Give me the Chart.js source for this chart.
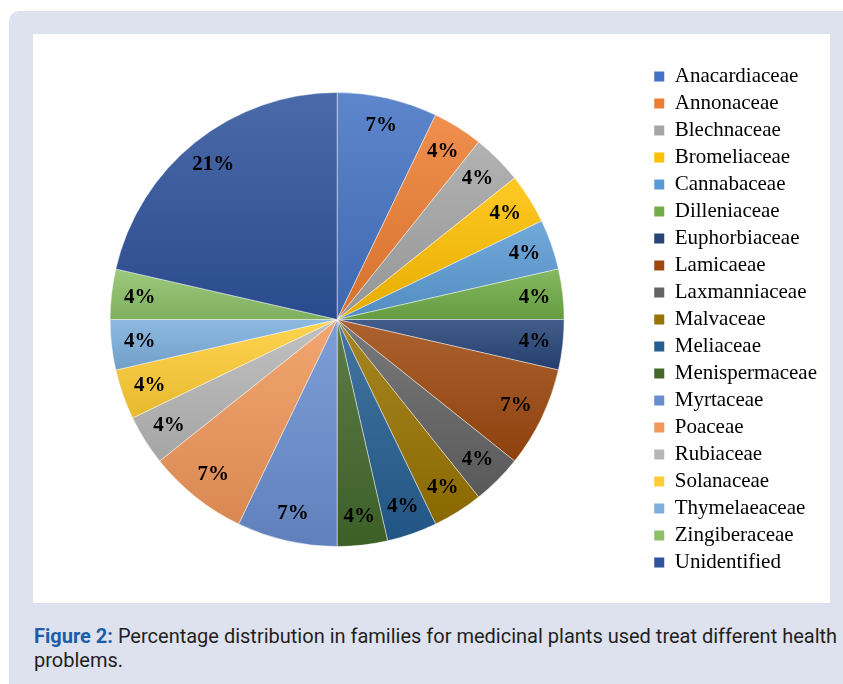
<!DOCTYPE html>
<html>
<head>
<meta charset="utf-8">
<script src="https://cdn.jsdelivr.net/npm/chart.js@4.4.1/dist/chart.umd.min.js"></script>
<style>
  html, body { margin: 0; padding: 0; background: #fff; }
  body { width: 843px; height: 684px; position: relative; overflow: hidden; }
  #panel {
    position: absolute; left: 9px; top: 11px; width: 850px; height: 690px;
    background: #dee2ef; border-radius: 10px;
  }
  #box {
    position: absolute; left: 33px; top: 34px; width: 797px; height: 569px;
    background: #fff;
  }
  #pie { position: absolute; left: 26px; top: 35px; }
  #caption {
    position: absolute; left: 34px; top: 624px; width: 806px;
    font-family: Roboto, "Noto Sans", sans-serif; font-size: 20px; line-height: 24px;
    color: #231f20;
  }
  #caption b { color: #1b5da6; }
</style>
</head>
<body>
<div id="panel"></div>
<div id="box"></div>
<canvas id="pie" width="805" height="569"></canvas>
<div id="caption"><b>Figure 2:</b> Percentage distribution in families for medicinal plants used treat different health problems.</div>
<script>
// plant families and number of plants in each (shown as rounded percent)
const families = [
  "Anacardiaceae", "Annonaceae", "Blechnaceae", "Bromeliaceae", "Cannabaceae",
  "Dilleniaceae", "Euphorbiaceae", "Lamicaeae", "Laxmanniaceae", "Malvaceae",
  "Meliaceae", "Menispermaceae", "Myrtaceae", "Poaceae", "Rubiaceae",
  "Solanaceae", "Thymelaeaceae", "Zingiberaceae", "Unidentified"
];
const counts = [2, 1, 1, 1, 1, 1, 1, 2, 1, 1, 1, 1, 2, 2, 1, 1, 1, 1, 6];
const colors = [
  "#4472C4", "#ED7D31", "#A5A5A5", "#FFC000", "#5B9BD5",
  "#70AD47", "#264478", "#9E480E", "#636363", "#997300",
  "#255E91", "#43682B", "#698ED0", "#F1975A", "#B7B7B7",
  "#FFCD33", "#7CAFDD", "#8CC168", "#2E529C"
];

function mix(hex, target, t) {
  const n = parseInt(hex.slice(1), 16);
  const r = (n >> 16) & 255, g = (n >> 8) & 255, b = n & 255;
  const f = (c) => Math.round(c + (target - c) * t);
  return `rgb(${f(r)}, ${f(g)}, ${f(b)})`;
}

// vertical gradient over each slice, light on top, darker at the bottom
function sliceFill(ctx) {
  const chart = ctx.chart;
  const area = chart.chartArea;
  const i = ctx.dataIndex;
  if (!area || i === undefined) return colors[i] || "#999";
  const cx = (area.left + area.right) / 2;
  const cy = (area.top + area.bottom) / 2;
  const r = 227;
  const total = counts.reduce((a, b) => a + b, 0);
  const before = counts.slice(0, i).reduce((a, b) => a + b, 0);
  const a0 = -Math.PI / 2 + before / total * 2 * Math.PI;
  const a1 = a0 + counts[i] / total * 2 * Math.PI;
  const ys = [cy, cy + r * Math.sin(a0), cy + r * Math.sin(a1)];
  [Math.PI / 2, -Math.PI / 2, 3 * Math.PI / 2].forEach((a) => {
    if (a > a0 && a < a1) ys.push(cy + r * Math.sin(a));
  });
  const top = Math.min(...ys), bottom = Math.max(...ys);
  const g = chart.ctx.createLinearGradient(0, top, 0, bottom + 1);
  g.addColorStop(0, mix(colors[i], 255, 0.14));
  g.addColorStop(1, mix(colors[i], 0, 0.1));
  return g;
}

// percent labels inside the slices
const percentLabels = {
  id: "percentLabels",
  afterDatasetsDraw(chart) {
    const meta = chart.getDatasetMeta(0);
    const total = counts.reduce((a, b) => a + b, 0);
    const c = chart.ctx;
    c.save();
    c.font = "bold 21px 'Liberation Serif', 'Times New Roman', serif";
    c.fillStyle = "#000";
    c.textAlign = "center";
    c.textBaseline = "middle";
    meta.data.forEach((arc, i) => {
      const mid = (arc.startAngle + arc.endAngle) / 2;
      const rr = arc.outerRadius * 0.875;
      const x = arc.x + Math.cos(mid) * rr;
      const y = arc.y + Math.sin(mid) * rr;
      c.fillText(Math.round(counts[i] / total * 100) + "%", x, y);
    });
    c.restore();
  }
};

new Chart(document.getElementById("pie"), {
  type: "pie",
  data: {
    labels: families,
    datasets: [{
      data: counts,
      radius: 227,
      backgroundColor: sliceFill,
      borderColor: "rgba(255,255,255,0.55)",
      borderWidth: 0.8
    }]
  },
  options: {
    responsive: false,
    animation: false,
    layout: { padding: { top: 0, bottom: 0, left: 0, right: 4 } },
    plugins: {
      tooltip: { enabled: false },
      legend: {
        position: "right",
        labels: {
          boxWidth: 10,
          boxHeight: 10,
          padding: 6,
          color: "#111",
          font: { family: "'Liberation Serif', 'Times New Roman', serif", size: 21 },
          generateLabels(chart) {
            return families.map((name, i) => ({
              text: name,
              fillStyle: colors[i],
              strokeStyle: colors[i],
              lineWidth: 0,
              index: i
            }));
          }
        }
      }
    }
  },
  plugins: [percentLabels]
});
</script>
</body>
</html>
